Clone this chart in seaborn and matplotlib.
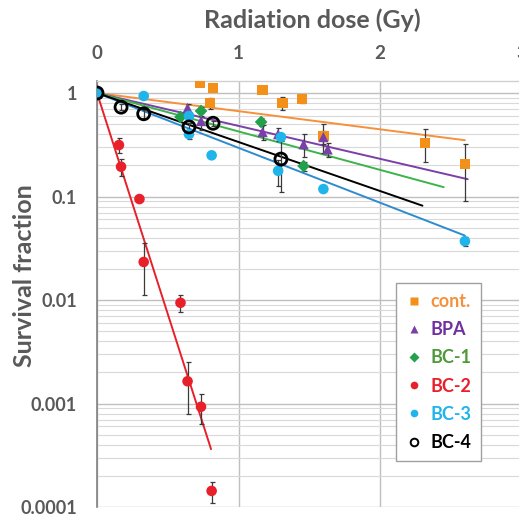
import numpy as np
import pandas as pd
import matplotlib
matplotlib.use("Agg")
import matplotlib.pyplot as plt
import seaborn as sns
from matplotlib.lines import Line2D
from matplotlib.ticker import FixedLocator, FixedFormatter, LogLocator, NullFormatter

# survival data (dose in Gy, survival fraction, error)
cont_x = [0, 0.73, 0.82, 0.80, 1.17, 1.31, 1.45, 1.60, 2.32, 2.60]
cont_y = [1, 1.25, 1.12, 0.80, 1.07, 0.80, 0.875, 0.385, 0.33, 0.206]
cont_err = [0.02, 0.05, 0.07, 0.10, 0.05, 0.12, 0.08, 0.12, 0.115, 0.115]

bpa_x = [0, 0.64, 0.735, 1.17, 1.28, 1.46, 1.60, 1.63]
bpa_y = [1, 0.716, 0.536, 0.42, 0.40, 0.32, 0.375, 0.285]
bpa_err = [0.02, 0.06, 0.10, 0.07, 0.06, 0.08, 0.05, 0.045]

bc1_x = [0, 0.59, 0.735, 1.16, 1.46]
bc1_y = [1, 0.586, 0.67, 0.525, 0.197]
bc1_err = [0.02, 0.03, 0.07, 0.05, 0.02]

bc2_x = [0, 0.155, 0.17, 0.30, 0.33, 0.59, 0.64, 0.735, 0.81]
bc2_y = [1, 0.314, 0.194, 0.0945, 0.0233, 0.0094, 0.00164, 0.00093, 0.000143]
bc2_err = [0.02, 0.05, 0.035, 0.005, 0.012, 0.0018, 0.00085, 0.0003, 0.000033]

bc3_x = [0, 0.33, 0.65, 0.65, 0.81, 1.30, 1.28, 1.60, 2.60]
bc3_y = [1, 0.935, 0.60, 0.40, 0.25, 0.375, 0.177, 0.118, 0.037]
bc3_err = [0.02, 0.04, 0.05, 0.04, 0.01, 0.03, 0.05, 0.005, 0.004]

bc4_x = [0, 0.17, 0.33, 0.65, 0.82, 1.30]
bc4_y = [1, 0.73, 0.63, 0.47, 0.51, 0.23]
bc4_err = [0.02, 0.05, 0.06, 0.04, 0.03, 0.12]

# exponential trendlines  S = exp(-alpha * D), drawn up to fit_xmax
labels = ["cont.", "BPA", "BC-1", "BC-2", "BC-3", "BC-4"]
fit_alpha = [0.404, 0.732, 0.855, 9.83, 1.22, 1.09]
fit_xmax = [2.60, 2.62, 2.45, 0.806, 2.60, 2.30]

marker_colors = ["#F39019", "#7B3FA8", "#22A04B", "#E8202A", "#1FB4EA", "black"]
line_colors = ["#F7903A", "#7B3FA8", "#3CB44B", "#E8202A", "#2E8BD0", "black"]
text_colors = ["#F5913E", "#7030A0", "#4E9A3A", "#E8202A", "#1FB4EA", "black"]
markers = ["s", "^", "D", "o", "o", "o"]
sizes = [55, 55, 42, 58, 58, 58]

font = "Lato"
gray = "#595959"

sns.set_style("white")
plt.rcParams['font.family'] = [font, 'DejaVu Sans']

fig = plt.figure(figsize=(5.19, 5.14), dpi=100)
ax = fig.add_axes([97 / 519, 7 / 514, 424.5 / 519, 426 / 514])
ax.set_yscale("log")
ax.set_xlim(0, 3)
ax.set_ylim(1e-4, 1.306)

# trendlines
for i, lab in enumerate(labels):
    fx = np.array([0, fit_xmax[i]])
    fit_df = pd.DataFrame({"x": fx, "y": np.exp(-fit_alpha[i] * fx)})
    sns.lineplot(data=fit_df, x="x", y="y", ax=ax, color=line_colors[i], lw=1.4, zorder=3)

# points with error bars
series = [(cont_x, cont_y, cont_err), (bpa_x, bpa_y, bpa_err), (bc1_x, bc1_y, bc1_err),
          (bc2_x, bc2_y, bc2_err), (bc3_x, bc3_y, bc3_err), (bc4_x, bc4_y, bc4_err)]
for i, (xs, ys, es) in enumerate(series):
    df = pd.DataFrame({"x": xs, "y": ys, "err": es})
    ax.errorbar(df["x"], df["y"], yerr=df["err"], fmt="none", ecolor="#3a3a3a",
                elinewidth=0.9, capsize=1.8, capthick=0.9, zorder=4)
    if labels[i] == "BC-4":
        sns.scatterplot(data=df, x="x", y="y", ax=ax, marker="o", s=75,
                        facecolors="none", edgecolor="black", linewidth=2, zorder=6)
    else:
        sns.scatterplot(data=df, x="x", y="y", ax=ax, marker=markers[i], s=sizes[i],
                        color=marker_colors[i], edgecolor="none", linewidth=0, zorder=5)

# grid
ax.yaxis.set_major_locator(FixedLocator([1e-4, 1e-3, 1e-2, 1e-1, 1]))
ax.yaxis.set_major_formatter(FixedFormatter(["0.0001", "0.001", "0.01", "0.1", "1"]))
ax.yaxis.set_minor_locator(LogLocator(base=10, subs=np.arange(2, 10)))
ax.yaxis.set_minor_formatter(NullFormatter())
ax.xaxis.set_major_locator(FixedLocator([0, 1, 2, 3]))
ax.grid(True, which="major", axis="both", color="#BFBFBF", lw=1.0)
ax.grid(True, which="minor", axis="y", color="#D9D9D9", lw=0.8)
ax.set_axisbelow(True)

ax.xaxis.tick_top()
ax.tick_params(axis="x", which="major", length=0, pad=14, labelsize=13.5, labelcolor=gray)
ax.tick_params(axis="y", which="major", length=5.8, width=1, color="#808080", direction="out",
               pad=8.5, labelsize=13, labelcolor=gray)
ax.tick_params(axis="y", which="minor", length=0)
for lbl in ax.get_xticklabels() + ax.get_yticklabels():
    lbl.set_fontweight("bold")

for s in ["right", "bottom"]:
    ax.spines[s].set_visible(False)
ax.spines["left"].set_color("#808080")
ax.spines["left"].set_linewidth(1.2)
ax.spines["top"].set_color("#D0D0D0")
ax.spines["top"].set_linewidth(1.0)

ax.set_xlabel("")
ax.set_ylabel("")
fig.text(312 / 519, 1 - 20 / 514, "Radiation dose (Gy)", ha="center", va="center",
         fontsize=18, fontweight="bold", color=gray)
fig.text(25 / 519, 1 - 276 / 514, "Survival fraction", ha="center", va="center",
         rotation=90, fontsize=18, fontweight="bold", color=gray)

# legend
handles = []
for i, lab in enumerate(labels):
    if lab == "BC-4":
        h = Line2D([], [], ls="none", marker="o", ms=5.5, mfc="none", mec="black", mew=1.4)
    else:
        h = Line2D([], [], ls="none", marker=markers[i], ms=5.5, color=marker_colors[i], mec="none")
    handles.append(h)
leg = ax.legend(handles, labels, loc="upper left", bbox_to_anchor=((396 - 97) / 424.5, (507 - 283) / 426),
                frameon=True, fancybox=False, edgecolor="#A0A0A0", framealpha=1,
                handlelength=0.9, handletextpad=0.45, labelspacing=0.62, borderpad=0.55,
                borderaxespad=0, prop={"family": font, "weight": "bold", "size": 13})
leg.get_frame().set_linewidth(1.0)
for t, c in zip(leg.get_texts(), text_colors):
    t.set_color(c)

fig.savefig("out.png", dpi=100)
